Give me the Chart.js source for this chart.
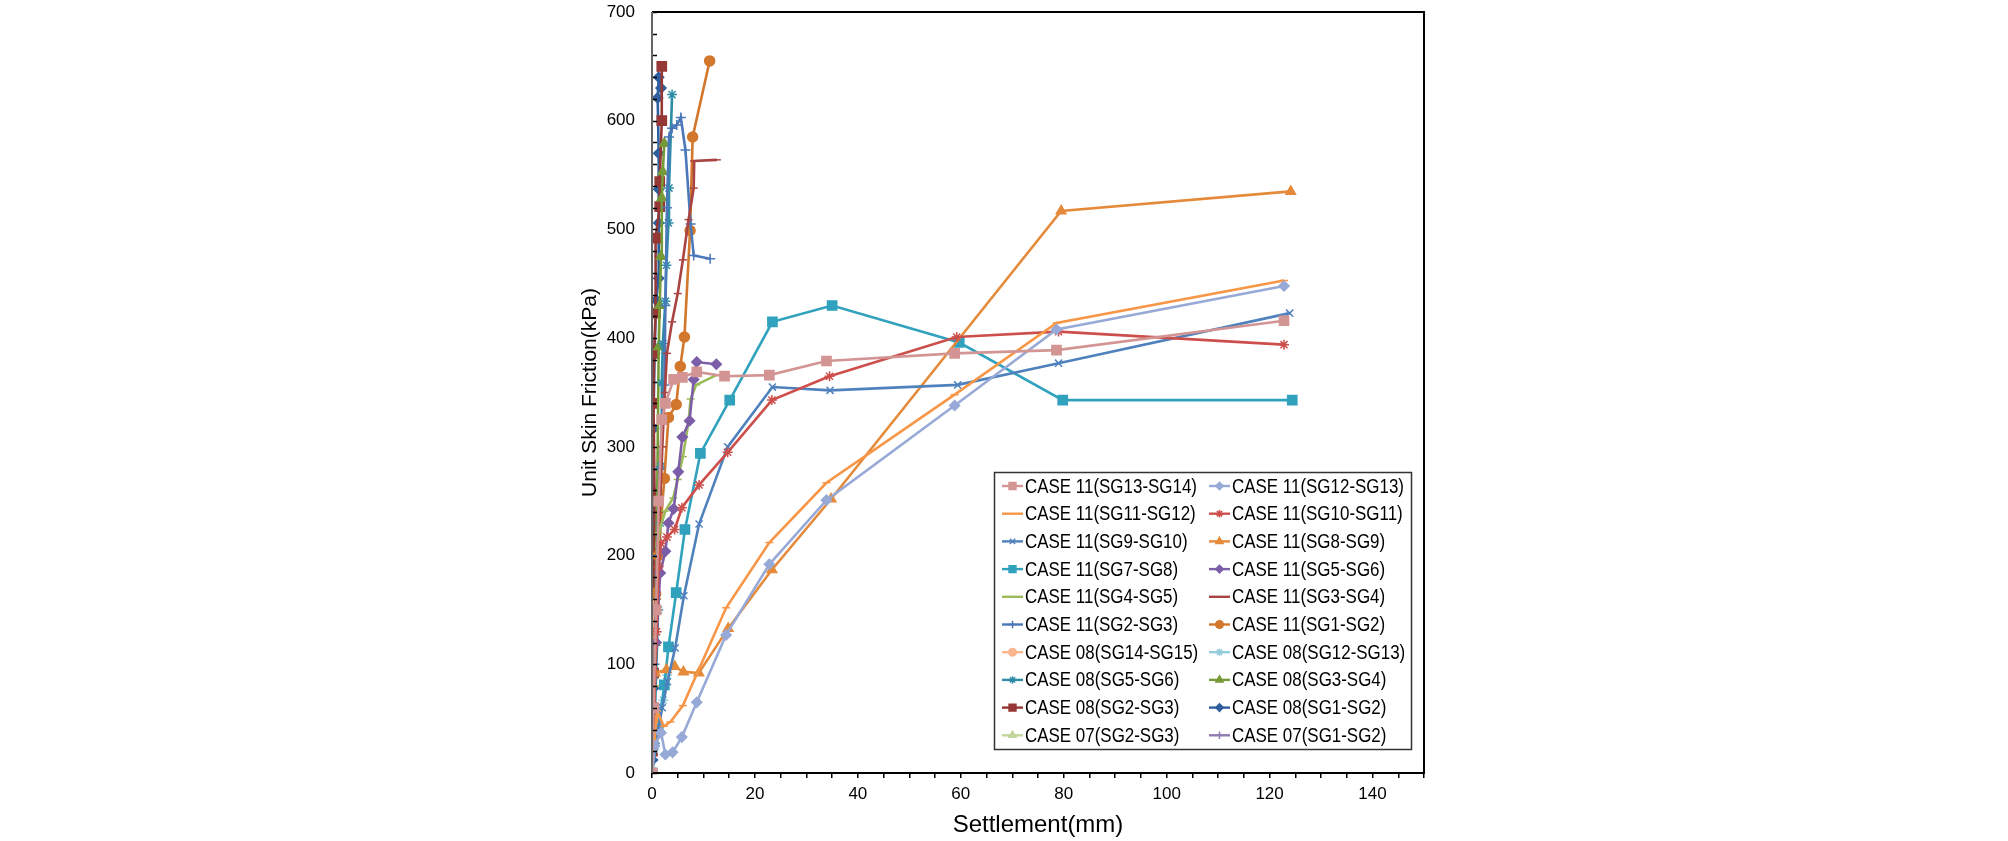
<!DOCTYPE html>
<html>
<head>
<meta charset="utf-8">
<script src="https://cdn.jsdelivr.net/npm/chart.js@4"></script>
<style>
  html, body { margin: 0; padding: 0; background: #fff; }
  #wrap { width: 2008px; height: 841px; }
</style>
</head>
<body>
<div id="wrap"><canvas id="chart" width="2008" height="841"></canvas></div>
<script>
// series names, in legend order (row by row, two columns)
const seriesNames = [
  'CASE 11(SG13-SG14)', 'CASE 11(SG12-SG13)',
  'CASE 11(SG11-SG12)', 'CASE 11(SG10-SG11)',
  'CASE 11(SG9-SG10)', 'CASE 11(SG8-SG9)',
  'CASE 11(SG7-SG8)', 'CASE 11(SG5-SG6)',
  'CASE 11(SG4-SG5)', 'CASE 11(SG3-SG4)',
  'CASE 11(SG2-SG3)', 'CASE 11(SG1-SG2)',
  'CASE 08(SG14-SG15)', 'CASE 08(SG12-SG13)',
  'CASE 08(SG5-SG6)', 'CASE 08(SG3-SG4)',
  'CASE 08(SG2-SG3)', 'CASE 08(SG1-SG2)',
  'CASE 07(SG2-SG3)', 'CASE 07(SG1-SG2)'
]

// settlement (mm) / unit skin friction (kPa), one pair per series
const c11_sg13_x = [0, 0.3, 0.8, 1.3, 1.9, 2.6, 4.2, 5.9, 8.7, 14.1, 22.8, 33.9, 58.8, 78.6, 122.8]
const c11_sg13_y = [0, 60, 150, 250, 325, 340, 362, 364, 369, 365, 366, 379, 386, 389, 416]
const c11_sg12_x = [0, 0.5, 1.75, 2.6, 4.0, 5.8, 8.7, 14.4, 22.8, 33.9, 58.8, 78.6, 122.8]
const c11_sg12_y = [0, 25, 37, 17, 19, 33, 65, 127, 192, 251, 338, 408, 448]
const c11_sg11_x = [0, 0.5, 1.0, 2.3, 3.6, 6.0, 14.4, 22.8, 33.9, 58.8, 78.6, 122.8]
const c11_sg11_y = [0, 30, 57, 43, 47, 62, 152, 212, 267, 348, 414, 453]
const c11_sg10_x = [0, 0.4, 0.9, 1.3, 1.75, 2.9, 4.4, 5.8, 9.15, 14.7, 23.3, 34.5, 59.2, 79.0, 122.8]
const c11_sg10_y = [0, 60, 130, 190, 211, 217, 224, 244, 265, 295, 343, 365, 401, 406, 394]
const c11_sg9_x = [0, 0.8, 2.0, 3.0, 4.5, 6.2, 9.15, 14.7, 23.4, 34.6, 59.4, 79.0, 123.9]
const c11_sg9_y = [0, 30, 60, 84, 115, 163, 229, 300, 355, 352, 357, 377, 423]
const c11_sg8_x = [0, 0.3, 0.6, 2.8, 4.4, 6.1, 9.1, 14.8, 23.3, 34.8, 79.5, 124.1]
const c11_sg8_y = [0, 50, 92, 95, 98, 93, 92, 133, 187, 252, 517, 535]
const c11_sg7_x = [0, 1.2, 2.4, 3.2, 4.7, 6.4, 9.4, 15.1, 23.4, 35.0, 59.7, 79.8, 124.4]
const c11_sg7_y = [0, 40, 81, 116, 166, 224, 294, 343, 415, 430, 396, 343, 343]
const c11_sg5_x = [0, 0.4, 0.8, 1.6, 2.6, 3.2, 4.2, 5.1, 5.9, 7.3, 8.1, 8.7, 12.5]
const c11_sg5_y = [0, 60, 120, 184, 204, 230, 243, 277, 309, 324, 362, 378, 376]
const c11_sg4_x = [0, 0.5, 0.9, 1.3, 2.6, 4.1, 5.0, 6.0, 7.1, 7.5, 8.6, 12.5]
const c11_sg4_y = [0, 80, 160, 221, 241, 253, 270, 291, 323, 344, 357, 366]
const c11_sg3_x = [0, 0.5, 1.0, 1.5, 2.0, 2.5, 2.9, 3.9, 5.0, 6.0, 7.1, 8.1, 8.2, 12.6]
const c11_sg3_y = [0, 80, 160, 240, 300, 350, 386, 415, 441, 472, 509, 538, 563, 564]
const c11_sg2_x = [0, 0.5, 1.0, 1.5, 2.4, 2.6, 2.9, 3.3, 3.9, 4.8, 5.6, 6.5, 7.5, 8.1, 11.3]
const c11_sg2_y = [0, 100, 200, 280, 357, 430, 520, 585, 593, 596, 603, 573, 505, 476, 473]
const c11_sg1_x = [0, 0.3, 0.7, 1.2, 2.4, 3.2, 4.7, 5.5, 6.3, 7.4, 7.9, 11.2]
const c11_sg1_y = [0, 60, 165, 200, 271, 327, 339, 374, 401, 499, 585, 655]
const c08_sg14_x = [0, 0.1, 0.15, 0.2]
const c08_sg14_y = [0, 60, 120, 165]
const c08_sg12_x = [0, 0.5, 1.2, 2.2, 2.9]
const c08_sg12_y = [0, 22, 45, 67, 90]
const c08_sg5_x = [0, 0.6, 1.2, 1.6, 1.75, 1.9, 2.1, 2.6, 2.8, 3.2, 3.3, 3.9]
const c08_sg5_y = [0, 60, 150, 230, 282, 359, 395, 434, 467, 506, 538, 624]
const c08_sg3_x = [0, 0.3, 0.6, 1.0, 1.3, 1.5, 1.75, 1.9, 2.1, 2.4]
const c08_sg3_y = [0, 50, 120, 250, 392, 430, 475, 529, 553, 579]
const c08_sg2_x = [0, 0.1, 0.3, 0.3, 0.3, 0.4, 0.5, 0.3, 0.4, 0.7, 0.7, 1.5, 1.5, 1.9, 1.9]
const c08_sg2_y = [0, 20, 60, 92, 139, 218, 257, 340, 386, 423, 492, 521, 544, 600, 650]
const c08_sg1_x = [0, 0.1, 0.3, 0.3, 0.3, 0.2, 0.2, 0.3, 0.3, 0.5, 0.8, 1.3, 1.3, 1.3, 1.3, 1.1, 1.3, 1.75]
const c08_sg1_y = [0, 12, 32, 78, 121, 167, 204, 254, 317, 386, 435, 455, 506, 537, 570, 621, 640, 630]
const c07_sg2_x = [0, 0.1, 0.3, 0.5]
const c07_sg2_y = [0, 30, 90, 150]
const c07_sg1_x = [0, 0.1, 0.2, 0.3, 0.4]
const c07_sg1_y = [0, 40, 100, 160, 220]

const seriesX = [c11_sg13_x, c11_sg12_x, c11_sg11_x, c11_sg10_x, c11_sg9_x, c11_sg8_x, c11_sg7_x, c11_sg5_x,
  c11_sg4_x, c11_sg3_x, c11_sg2_x, c11_sg1_x, c08_sg14_x, c08_sg12_x, c08_sg5_x, c08_sg3_x,
  c08_sg2_x, c08_sg1_x, c07_sg2_x, c07_sg1_x]
const seriesY = [c11_sg13_y, c11_sg12_y, c11_sg11_y, c11_sg10_y, c11_sg9_y, c11_sg8_y, c11_sg7_y, c11_sg5_y,
  c11_sg4_y, c11_sg3_y, c11_sg2_y, c11_sg1_y, c08_sg14_y, c08_sg12_y, c08_sg5_y, c08_sg3_y,
  c08_sg2_y, c08_sg1_y, c07_sg2_y, c07_sg1_y]

const seriesColors = ['#d39594', '#97a9d6', '#f79646', '#cd4f4c', '#4f81bd', '#e48a3a', '#31a2bd', '#7b5ea7',
  '#9bbb59', '#a94442', '#4a78b9', '#d2772b', '#f8b58e', '#93cddd', '#2e8ca6', '#779a38',
  '#953735', '#2f5f9e', '#c3d69b', '#8f7bb0']
const seriesMarkers = ['rect', 'rectRot', 'line', 'star', 'crossRot', 'triangle', 'rect', 'rectRot',
  'line', 'line', 'cross', 'circle', 'circle', 'star', 'star', 'triangle',
  'rect', 'rectRot', 'triangle', 'cross']

const xTickLabels = [0, 20, 40, 60, 80, 100, 120, 140]
const yTickLabels = [0, 100, 200, 300, 400, 500, 600, 700]
const xMinorStep = 5
const yMinorStep = 20

const plainFont = "'Liberation Sans', Arial, sans-serif"

function markerRadius(style) {
  if (style === 'rect') return 6.5
  if (style === 'circle') return 5
  if (style === 'triangle') return 5.5
  if (style === 'line') return 4
  return 5
}

const datasets = seriesNames.map((name, i) => ({
  label: name,
  data: seriesX[i].map((x, k) => ({ x: x, y: seriesY[i][k] })),
  showLine: true,
  borderColor: seriesColors[i],
  backgroundColor: seriesColors[i],
  borderWidth: 2.6,
  pointStyle: seriesMarkers[i],
  pointRadius: markerRadius(seriesMarkers[i]),
  pointBorderWidth: 1.5,
  pointBackgroundColor: seriesColors[i],
  pointBorderColor: seriesColors[i],
  tension: 0
}))

// frame, inner y ticks and the boxed legend
const framePlugin = {
  id: 'frame',
  afterDraw(chart) {
    const { ctx, chartArea: a, scales } = chart
    ctx.save()
    ctx.strokeStyle = '#000'
    ctx.lineWidth = 1.5
    scales.y.ticks.forEach(t => {
      const py = Math.round(scales.y.getPixelForValue(t.value)) + 0.5
      ctx.beginPath(); ctx.moveTo(a.left, py); ctx.lineTo(a.left + 5, py); ctx.stroke()
    })
    ctx.lineWidth = 2
    ctx.beginPath()
    ctx.moveTo(a.left, a.top); ctx.lineTo(a.right, a.top); ctx.lineTo(a.right, a.bottom); ctx.lineTo(a.left, a.bottom)
    ctx.stroke()
    ctx.strokeStyle = '#666'
    ctx.beginPath(); ctx.moveTo(a.left, a.top); ctx.lineTo(a.left, a.bottom); ctx.stroke()

    // legend box
    const lx = 994, ly = 472, lw = 417, lh = 277
    ctx.fillStyle = '#fff'
    ctx.fillRect(lx, ly, lw, lh)
    ctx.strokeStyle = '#333'
    ctx.lineWidth = 1.5
    ctx.strokeRect(lx + 0.5, ly + 0.5, lw, lh)
    ctx.font = '20px ' + plainFont
    ctx.textBaseline = 'middle'
    ctx.textAlign = 'left'
    // the original legend font is a narrow one: squeeze the text to its width
    const sx = 172 / ctx.measureText(seriesNames[0]).width
    chart.data.datasets.forEach((ds, i) => {
      const row = Math.floor(i / 2), col = i % 2
      const cy = 486 + row * 27.7
      const x0 = col ? 1209 : 1002
      ctx.strokeStyle = ds.borderColor
      ctx.fillStyle = ds.borderColor
      ctx.lineWidth = 2.4
      ctx.beginPath(); ctx.moveTo(x0, cy); ctx.lineTo(x0 + 21, cy); ctx.stroke()
      if (ds.pointStyle !== 'line') {
        ctx.lineWidth = 1.5
        Chart.helpers.drawPoint(ctx, { pointStyle: ds.pointStyle, radius: ds.pointRadius * 0.75, rotation: 0, borderWidth: 1.5 }, x0 + 10.5, cy)
      }
      ctx.fillStyle = '#000'
      ctx.save()
      ctx.translate(x0 + 23, cy + 1)
      ctx.scale(sx, 1)
      ctx.fillText(ds.label, 0, 0)
      ctx.restore()
    })
    ctx.restore()
  }
}

const ctx = document.getElementById('chart').getContext('2d')
new Chart(ctx, {
  type: 'scatter',
  data: { datasets: datasets },
  options: {
    responsive: false,
    animation: false,
    layout: { padding: { left: 560, right: 584, top: 12, bottom: 0 } },
    plugins: { legend: { display: false }, tooltip: { enabled: false } },
    scales: {
      x: {
        type: 'linear', min: 0, max: 150,
        afterBuildTicks: s => {
          const t = []
          for (let v = 0; v <= 150; v += xMinorStep) t.push({ value: v })
          s.ticks = t
        },
        afterFit: s => { s.height = 68 },
        border: { display: false },
        grid: { drawOnChartArea: false, tickLength: 5, color: '#000', lineWidth: 1.5 },
        ticks: {
          autoSkip: false, maxRotation: 0, padding: 6, color: '#000',
          font: { family: plainFont, size: 17 },
          callback: v => xTickLabels.includes(v) ? String(v) : ''
        },
        title: { display: true, text: 'Settlement(mm)', color: '#000', font: { family: plainFont, size: 24 }, padding: { top: 0, bottom: 1 } }
      },
      y: {
        type: 'linear', min: 0, max: 700,
        afterBuildTicks: s => {
          const t = []
          for (let v = 0; v <= 700; v += yMinorStep) t.push({ value: v })
          s.ticks = t
        },
        afterFit: s => { s.width = 92 },
        border: { display: false },
        // invisible tick marks keep the labels clear of the axis (inner ticks are drawn by the plugin)
        grid: { display: true, drawOnChartArea: false, drawTicks: true, tickLength: 17, color: 'rgba(0,0,0,0)' },
        ticks: {
          autoSkip: false, padding: 0, color: '#000',
          font: { family: plainFont, size: 17 },
          callback: v => yTickLabels.includes(v) ? String(v) : ''
        },
        title: { display: true, text: 'Unit Skin Friction(kPa)', color: '#000', font: { family: plainFont, size: 21 }, padding: { top: 18, bottom: 0 } }
      }
    }
  },
  plugins: [framePlugin]
})
</script>
</body>
</html>
